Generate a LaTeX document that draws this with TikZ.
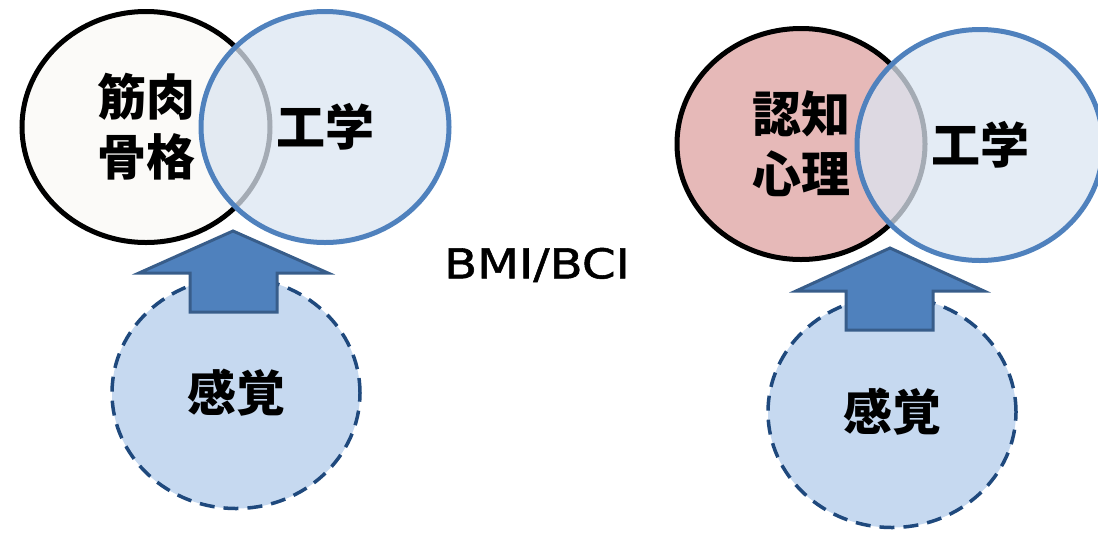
\documentclass[tikz,border=0pt]{standalone}
\usepackage{fontspec}
\newfontfamily\jpfont{Noto Sans CJK JP}
\newfontfamily\latinfont{DejaVu Sans}[FakeStretch=1.18,FakeBold=1.3]
\usetikzlibrary{shapes.geometric}
\definecolor{engline}{HTML}{4F81BD}
\definecolor{engfill}{HTML}{DBE5F1}
\definecolor{musclefill}{HTML}{FBFAF8}
\definecolor{cogfill}{HTML}{E6B9B8}
\definecolor{sensefill}{HTML}{C6D9F0}
\definecolor{senseline}{HTML}{1F497D}
\definecolor{arrowline}{HTML}{385D8A}
\begin{document}
\begin{tikzpicture}
  [x=1pt,y=-1pt,
   field/.style={ellipse,line width=5pt,minimum width=248pt,minimum height=231pt,
     inner sep=0pt,align=center,font={\jpfont\bfseries\fontsize{49}{60}\selectfont}},
   base/.style={field,draw=black},
   eng/.style={field,draw=engline,fill=engfill,fill opacity=0.75,text opacity=1},
   sense/.style={field,draw=senseline,fill=sensefill,line width=3.5pt,
     dash pattern=on 15pt off 9pt},
   blockarrow/.style={draw=arrowline,fill=engline,line width=3pt,line join=miter}]
\useasboundingbox (0,0) rectangle (1098,547); % fix bounding box
\node at (146,127) (muscL) [base, fill=musclefill] {筋肉\\骨格};
\node at (325,127) (engL)  [eng] {工学};
\node at (236,393) (senseL) [sense] {感覚};
\node at (801,144) (cogR)  [base, fill=cogfill] {認知\\心理};
\node at (980,145) (engR)  [eng, minimum width=246pt] {工学};
\node at (892,412) (senseR) [sense] {感覚};
\node at (537,265) (bmi) {\latinfont\fontsize{41}{41}\selectfont BMI/BCI};
%
\coordinate (tipL) at (233,231);
\coordinate (tipR) at (890,248);
\draw [blockarrow] (tipL) -- ++(95,42) -- ++(-51,0) -- ++(0,39) -- ++(-87,0)
  -- ++(0,-39) -- ++(-51,0) -- cycle;
\draw [blockarrow] (tipR) -- ++(94,43) -- ++(-51,0) -- ++(0,39) -- ++(-87,0)
  -- ++(0,-39) -- ++(-50,0) -- cycle;
\end{tikzpicture}
\end{document}
